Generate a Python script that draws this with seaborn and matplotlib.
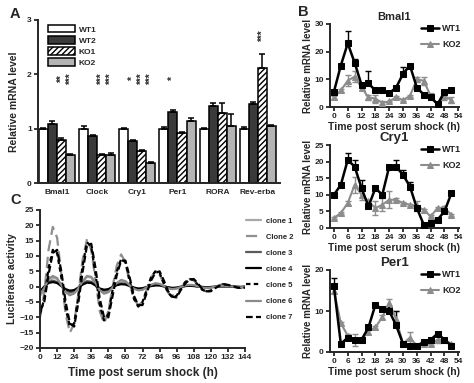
import numpy as np
import pandas as pd
import matplotlib
matplotlib.use("Agg")
import matplotlib.pyplot as plt
from matplotlib.container import BarContainer
import seaborn as sns

sns.set_style("ticks")
plt.rcParams['font.family'] = ['Liberation Sans', 'DejaVu Sans']
plt.rcParams['font.weight'] = 'bold'
plt.rcParams['axes.labelweight'] = 'bold'
plt.rcParams['axes.titleweight'] = 'bold'
plt.rcParams['hatch.linewidth'] = 1.0
plt.rcParams['axes.linewidth'] = 1.4
plt.rcParams['xtick.major.width'] = 1.3
plt.rcParams['ytick.major.width'] = 1.3
plt.rcParams['xtick.major.size'] = 3
plt.rcParams['ytick.major.size'] = 3

# ---------------- Panel A data ----------------
genes = ["Bmal1", "Clock", "Cry1", "Per1", "RORA", "Rev-erba"]
groups = ["WT1", "WT2", "KO1", "KO2"]
wt1 = [1.00, 1.00, 1.00, 1.00, 1.00, 1.00]
wt2 = [1.09, 0.87, 0.78, 1.31, 1.42, 1.45]
ko1 = [0.79, 0.52, 0.59, 0.92, 1.28, 2.12]
ko2 = [0.52, 0.51, 0.37, 1.14, 1.05, 1.04]
wt1_err = [0.02, 0.04, 0.01, 0.03, 0.02, 0.03]
wt2_err = [0.05, 0.01, 0.01, 0.03, 0.05, 0.05]
ko1_err = [0.04, 0.01, 0.01, 0.01, 0.20, 0.25]
ko2_err = [0.01, 0.04, 0.01, 0.06, 0.22, 0.03]
stars = [("Bmal1", "KO1", "**"), ("Bmal1", "KO2", "***"),
         ("Clock", "KO1", "***"), ("Clock", "KO2", "***"),
         ("Cry1", "WT2", "*"), ("Cry1", "KO1", "***"), ("Cry1", "KO2", "***"),
         ("Per1", "WT2", "*"), ("Rev-erba", "KO1", "***")]

# ---------------- Panel B data ----------------
tB = [0, 3, 6, 9, 12, 15, 18, 21, 24, 27, 30, 33, 36, 39, 42, 45, 48, 51]
bmal_wt = [5.5, 15, 23, 16, 8, 8.5, 6, 6, 5, 7, 12, 15, 7, 4.5, 3.5, 1, 5.5, 6]
bmal_wt_err = [0, 0, 4.5, 1.5, 0.5, 4.5, 0, 0, 0, 0.3, 2.5, 0.5, 0.3, 0.3, 0.3, 0.3, 0.3, 0.3]
bmal_ko = [3.5, 6, 9.5, 11, 7, 3.5, 3, 1.5, 2, 3.5, 2.5, 4, 10, 9.5, 4, 1, 4, 2.5]
bmal_ko_err = [0.5, 0.5, 2, 2, 1, 1, 1.5, 0.5, 0.3, 0.3, 0.3, 0.3, 1, 1.5, 1, 0.3, 1.5, 1]
cry_wt = [10, 13, 20.5, 18.5, 12, 6.5, 12, 10, 18.5, 18.5, 16, 12.5, 6, 1, 1.5, 2.5, 5, 10.5]
cry_wt_err = [0.3, 0.3, 2, 2, 2.5, 0.5, 0.3, 0.3, 0.5, 2, 1.5, 1.5, 0.5, 0.3, 0.3, 0.3, 0.3, 0.3]
cry_ko = [3, 4.5, 7.5, 13, 10, 8, 6, 7, 8.5, 8.5, 7.5, 7, 6.5, 5.5, 3.5, 6, 6, 4]
cry_ko_err = [0.3, 0.3, 0.5, 2.5, 1.5, 0.5, 2, 2, 2.5, 0.5, 0.3, 0.3, 1.5, 0.3, 0.3, 0.3, 0.5, 0.3]
per_wt = [16, 2, 3.5, 3, 3, 6, 11.5, 10.5, 10, 6.5, 2, 1.5, 1.5, 2.5, 3, 4.5, 3, 1.5]
per_wt_err = [2, 0.3, 0.3, 0.3, 0.3, 0.5, 0.3, 0.5, 1, 3.5, 0.3, 0.3, 0.3, 0.3, 0.3, 0.3, 0.3, 0.3]
per_ko = [15, 7, 4, 3, 3, 5, 6, 8.5, 12, 8, 2, 3.5, 1.5, 2, 2, 3, 3, 2]
per_ko_err = [0.5, 0.3, 0.5, 1.5, 0.3, 0.5, 0.3, 0.5, 1, 2, 0.3, 1.5, 0.3, 0.3, 0.3, 0.8, 0.5, 0.3]

# ---------------- Panel C data ----------------
tC = [0, 3, 6, 9, 12, 15, 18, 21, 24, 27, 30, 33, 36, 39, 42, 45, 48, 51, 54, 57,
      60, 63, 66, 69, 72, 75, 78, 81, 84, 87, 90, 93, 96, 99, 102, 105, 108, 111,
      114, 117, 120, 123, 126, 129, 132, 135, 138, 141, 144]
clone1 = [-3, -1, 2, 3, 2.5, 0.5, -1.5, -2.5, -2, -0.5, 1.5, 3.2, 3, 1, -1, -2, -1.7, -0.3, 1, 2,
          1.7, 0.5, -0.5, -1, -1, -0.3, 0.5, 1, 0.8, 0.2, -0.4, -0.7, -0.6, -0.2, 0.3, 0.5, 0.5, 0.1,
          -0.2, -0.3, -0.3, -0.1, 0.1, 0.2, 0.2, 0, -0.1, -0.1, -0.1]
clone2 = [-10, -2, 12, 19.5, 16, 4, -9, -15, -12, -2, 9, 15.5, 12, 2, -8, -12, -8, 0, 7, 10.5,
          8, 1, -4, -6, -5, -1, 3, 5, 4, 1, -2, -3, -2.5, -0.5, 1.5, 2.5, 2, 0.5,
          -1, -1.5, -1.2, -0.3, 0.5, 0.8, 0.5, 0, -0.3, -0.3, -0.2]
clone3 = [-2, 0, 1.5, 2, 1.5, 0.2, -1.2, -1.8, -1.5, -0.3, 1, 1.8, 1.6, 0.5, -0.8, -1.3, -1.1, -0.2, 0.6, 1.1,
          1, 0.3, -0.4, -0.8, -0.7, -0.2, 0.3, 0.6, 0.5, 0.1, -0.3, -0.5, -0.4, -0.1, 0.2, 0.4, 0.3, 0.1,
          -0.1, -0.2, -0.2, 0, 0.1, 0.1, 0.1, 0, -0.1, -0.1, 0]
clone4 = [-1.5, 0, 1.2, 1.5, 1.2, 0.2, -0.8, -1.3, -1.1, -0.3, 0.7, 1.3, 1.2, 0.4, -0.6, -1, -0.8, -0.1, 0.5, 0.8,
          0.7, 0.2, -0.3, -0.6, -0.5, -0.1, 0.2, 0.4, 0.4, 0.1, -0.2, -0.4, -0.3, 0, 0.2, 0.3, 0.2, 0,
          -0.1, -0.2, -0.1, 0, 0.1, 0.1, 0.1, 0, 0, -0.1, 0]
clone5 = [-9, -4, 6, 12, 11, 3, -7, -13, -12, -3, 7, 14.5, 13, 4, -6, -11, -9, -1, 5, 9,
          8, 2, -4, -6.5, -5, -1, 3, 5, 4.5, 1, -2, -3.5, -3, -0.5, 1.5, 2.5, 2.2, 0.5,
          -1, -1.6, -1.3, -0.3, 0.5, 0.8, 0.5, 0, -0.3, -0.4, -0.2]
clone6 = [-2.5, -0.5, 2.5, 3.5, 2.8, 0.5, -1.8, -2.8, -2.2, -0.5, 1.8, 3.5, 3.2, 1.2, -1.2, -2.3, -1.8, -0.3, 1.2, 2.2,
          1.8, 0.4, -0.7, -1.2, -1, -0.2, 0.6, 1.1, 0.9, 0.2, -0.5, -0.8, -0.6, -0.1, 0.4, 0.6, 0.5, 0.1,
          -0.3, -0.4, -0.3, 0, 0.2, 0.3, 0.2, 0, -0.1, -0.2, -0.1]
clone7 = [-8, -5, 4, 11, 12, 5, -5, -12, -13, -5, 5, 13.5, 14, 6, -4, -10, -10, -3, 4, 8.5,
          8.5, 3, -3, -6, -6, -2, 2, 4.5, 5, 2, -1.5, -3.3, -3.5, -1, 1, 2.3, 2.5, 1,
          -0.8, -1.5, -1.5, -0.5, 0.3, 0.7, 0.6, 0.2, -0.2, -0.4, -0.3]
clone_names = ["clone 1", "Clone 2", "clone 3", "clone 4", "clone 5", "clone 6", "clone 7"]

# ---------------- Figure ----------------
fig = plt.figure(figsize=(4.74, 3.83), dpi=100)
W, H = 474.0, 383.0

def box(l, t, r, b):
    return [l / W, 1 - b / H, (r - l) / W, (b - t) / H]

TICK = 6

# ---- Panel A ----
axA = fig.add_axes(box(38, 20, 280, 183))
dfA = pd.DataFrame({
    "gene": genes * 4,
    "group": np.repeat(groups, len(genes)),
    "value": wt1 + wt2 + ko1 + ko2,
})
palA = {"WT1": "white", "WT2": "#3a3a3a", "KO1": "white", "KO2": "#b4b4b4"}
sns.barplot(data=dfA, x="gene", y="value", hue="group", hue_order=groups, order=genes,
            palette=palA, edgecolor="black", linewidth=1.1, width=0.9, errorbar=None,
            ax=axA, legend=False, saturation=1)
bar_conts = [c for c in axA.containers if isinstance(c, BarContainer)]
errs = [wt1_err, wt2_err, ko1_err, ko2_err]
centers = {}
for gi, cont in enumerate(bar_conts):
    xs = [p.get_x() + p.get_width() / 2 for p in cont.patches]
    hs = [p.get_height() for p in cont.patches]
    if groups[gi] == "KO1":
        for p in cont.patches:
            p.set_hatch("//////")
    for gn, x, h in zip(genes, xs, hs):
        centers[(gn, groups[gi])] = (x, h)
    axA.errorbar(xs, hs, yerr=[np.zeros(len(hs)), errs[gi]], fmt="none",
                 ecolor="black", elinewidth=1.1, capsize=2, capthick=1.1, zorder=1)
for gn, gr, s in stars:
    x, h = centers[(gn, gr)]
    y = 1.93 if gn != "Rev-erba" else 2.72
    axA.text(x, y, s, rotation=90, ha="center", va="center", fontsize=7)
axA.set_xlim(-0.47, 5.55)
axA.set_ylim(0, 3)
axA.set_yticks([0, 1, 2, 3])
axA.set_xlabel("")
axA.set_ylabel("Relative mRNA level", fontsize=7.5, labelpad=6)
axA.tick_params(axis="both", labelsize=TICK, pad=1.5)
axA.tick_params(axis="x", length=0, pad=4)
for lab in axA.get_xticklabels() + axA.get_yticklabels():
    lab.set_fontweight("bold")
sns.despine(ax=axA)
axA.legend(bar_conts, groups, loc="upper left", bbox_to_anchor=(0.02, 1.0),
           frameon=False, fontsize=6, handlelength=3.3, handleheight=1.0,
           labelspacing=0.3, handletextpad=0.4, borderaxespad=0.2)
fig.text(10 / W, 1 - 14 / H, "A", fontsize=10.5, fontweight="bold", va="center")

# ---- Panel B ----
Bpanels = [
    ("Bmal1", bmal_wt, bmal_wt_err, bmal_ko, bmal_ko_err, (24, 107), 30, [0, 10, 20, 30], 8),
    ("Cry1", cry_wt, cry_wt_err, cry_ko, cry_ko_err, (145, 228), 25, [0, 5, 10, 15, 20, 25], 9.5),
    ("Per1", per_wt, per_wt_err, per_ko, per_ko_err, (270, 352), 20, [0, 10, 20], 9.5),
]
for name, wt, wte, ko, koe, (top, bot), ymax, yt, tsize in Bpanels:
    ax = fig.add_axes(box(330, top, 459, bot))
    ax.errorbar(tB, ko, yerr=koe, fmt="none", ecolor="#8c8c8c", elinewidth=1.0,
                capsize=2, capthick=1.0, zorder=2)
    ax.errorbar(tB, wt, yerr=[np.zeros(len(wte)), wte], fmt="none", ecolor="black",
                elinewidth=1.0, capsize=2, capthick=1.0, zorder=3)
    sns.lineplot(x=tB, y=wt, ax=ax, color="black", marker="s", markersize=4,
                 markeredgecolor="black", linewidth=1.8, label="WT1", zorder=5)
    sns.lineplot(x=tB, y=ko, ax=ax, color="#8c8c8c", marker="^", markersize=4.5,
                 markeredgecolor="#8c8c8c", linewidth=1.5, label="KO2", zorder=4)
    ax.set_xlim(-1.7, 54.3)
    ax.set_ylim(0, ymax)
    ax.set_xticks(list(range(0, 55, 6)))
    ax.set_yticks(yt)
    ax.tick_params(axis="both", labelsize=TICK, pad=1.5)
    for lab in ax.get_xticklabels() + ax.get_yticklabels():
        lab.set_fontweight("bold")
    ax.set_xlabel("Time post serum shock (h)", fontsize=7.5, labelpad=1)
    ax.set_ylabel("Relative mRNA level", fontsize=7, labelpad=1)
    ax.set_title(name, fontsize=tsize, pad=3)
    sns.despine(ax=ax)
    ax.legend(loc="upper right", bbox_to_anchor=(1.08, 1.1), frameon=False, fontsize=6.5,
              handlelength=2.0, labelspacing=0.8, handletextpad=0.3)
fig.text(298 / W, 1 - 12 / H, "B", fontsize=10.5, fontweight="bold", va="center")

# ---- Panel C ----
axC = fig.add_axes(box(40, 210, 245, 348))
clones = [clone1, clone2, clone3, clone4, clone5, clone6, clone7]
styles = [
    dict(color="#a8a8a8", linestyle="-", linewidth=1.6),
    dict(color="#8f8f8f", linestyle=(0, (5, 2.5)), linewidth=1.6),
    dict(color="#5a5a5a", linestyle="-", linewidth=1.6),
    dict(color="black", linestyle="-", linewidth=1.6),
    dict(color="black", linestyle=(0, (2, 1.5)), linewidth=1.6),
    dict(color="#8a8a8a", linestyle="-", linewidth=1.6),
    dict(color="black", linestyle=(0, (3, 1.5)), linewidth=1.6),
]
for vals, nm, st in zip(clones, clone_names, styles):
    sns.lineplot(x=tC, y=vals, ax=axC, label=nm, **st)
axC.set_xlim(0, 144)
axC.set_ylim(-20, 25)
axC.set_xticks(list(range(0, 145, 12)))
axC.set_yticks(list(range(-20, 26, 5)))
axC.tick_params(axis="both", labelsize=TICK, pad=1.5)
for lab in axC.get_xticklabels() + axC.get_yticklabels():
    lab.set_fontweight("bold")
axC.set_xlabel("Time post serum shock (h)", fontsize=8.5, labelpad=4)
axC.set_ylabel("Luciferase activity", fontsize=7.5, labelpad=2)
sns.despine(ax=axC)
axC.legend(loc="upper left", bbox_to_anchor=(0.99, 0.97), frameon=False, fontsize=5.5,
           handlelength=2.0, labelspacing=1.15, handletextpad=0.6, borderaxespad=0)
fig.text(10 / W, 1 - 200 / H, "C", fontsize=10.5, fontweight="bold", va="center")

fig.savefig("out.png", dpi=100)
